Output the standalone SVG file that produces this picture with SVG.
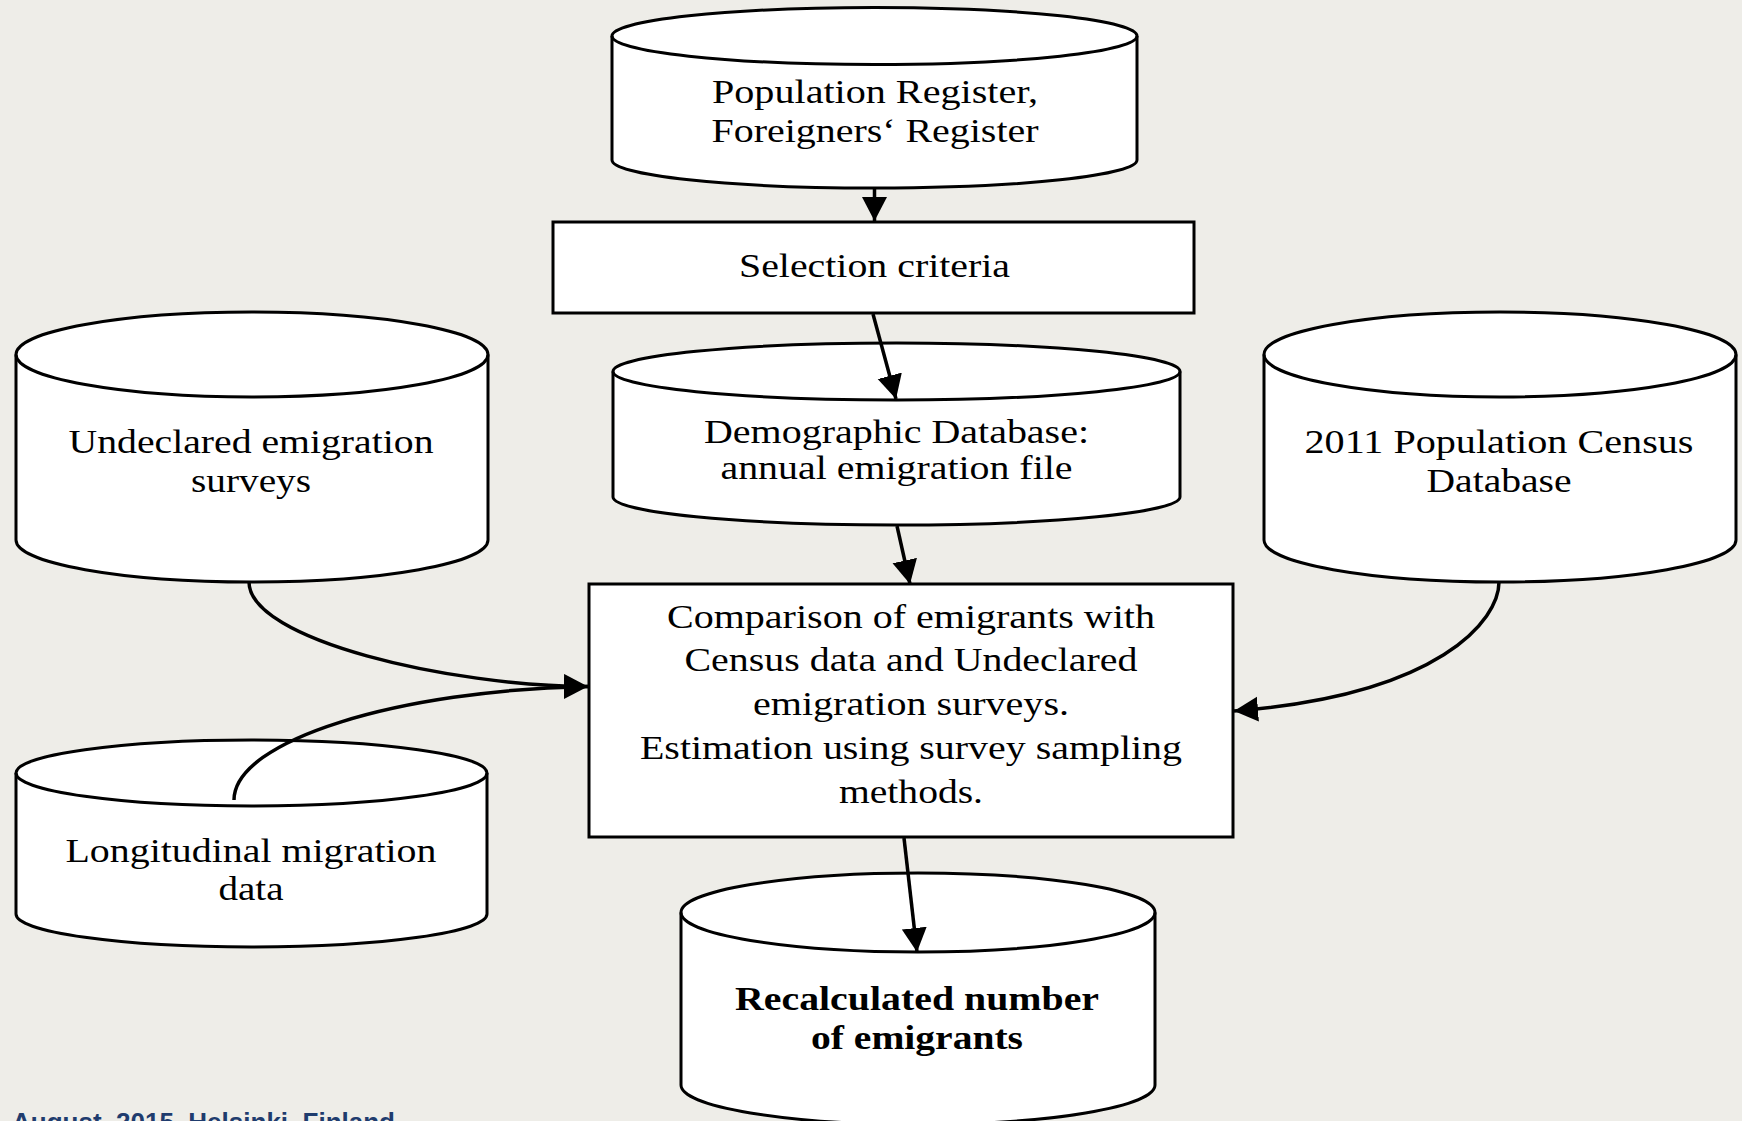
<svg xmlns="http://www.w3.org/2000/svg" width="1742" height="1121" viewBox="0 0 1742 1121">
<style>
.shape{fill:#ffffff;stroke:#000000;stroke-width:3}
.rim{fill:none;stroke:#000000;stroke-width:3}
.lbl{font-family:"Liberation Serif","Times New Roman",serif;font-size:33px;fill:#000000;text-anchor:middle}
.bold{font-weight:bold}
.conn{fill:none;stroke:#000000;stroke-width:3.5}
.foot{font-family:"Liberation Sans",Arial,sans-serif;font-weight:bold;font-size:26px;fill:#1f3c6e}
</style>
<defs>
<marker id="ah" markerUnits="userSpaceOnUse" markerWidth="26" markerHeight="26" refX="24" refY="12.5" orient="auto">
<path d="M0,0 L24,12.5 L0,25 Z" fill="#000000"/>
</marker>
</defs>
<rect x="0" y="0" width="1742" height="1121" fill="#eeede8"/>

<g id="population-register">
<path class="shape" d="M612,36 A262.5,28.5 0 0 1 1137,36 L1137,160 A262.5,28 0 0 1 612,160 Z"/>
<path class="rim" d="M612,36 A262.5,28.5 0 0 0 1137,36"/>
<text class="lbl" x="875" y="103" textLength="326" lengthAdjust="spacingAndGlyphs">Population Register,</text>
<text class="lbl" x="875" y="142" textLength="327" lengthAdjust="spacingAndGlyphs">Foreigners‘ Register</text>
</g>

<g id="selection-criteria">
<rect class="shape" x="553" y="222" width="641" height="91"/>
<text class="lbl" x="874.5" y="277" textLength="271" lengthAdjust="spacingAndGlyphs">Selection criteria</text>
</g>

<g id="demographic-database">
<path class="shape" d="M613,371.5 A283.5,28.5 0 0 1 1180,371.5 L1180,497 A283.5,28 0 0 1 613,497 Z"/>
<path class="rim" d="M613,371.5 A283.5,28.5 0 0 0 1180,371.5"/>
<text class="lbl" x="896.5" y="443" textLength="385" lengthAdjust="spacingAndGlyphs">Demographic Database:</text>
<text class="lbl" x="896.5" y="479" textLength="352" lengthAdjust="spacingAndGlyphs">annual emigration file</text>
</g>

<g id="undeclared-surveys">
<path class="shape" d="M16,354.5 A236,42.5 0 0 1 488,354.5 L488,540 A236,42 0 0 1 16,540 Z"/>
<path class="rim" d="M16,354.5 A236,42.5 0 0 0 488,354.5"/>
<text class="lbl" x="251" y="453" textLength="365" lengthAdjust="spacingAndGlyphs">Undeclared emigration</text>
<text class="lbl" x="251" y="492" textLength="120" lengthAdjust="spacingAndGlyphs">surveys</text>
</g>

<g id="census-database">
<path class="shape" d="M1264,354.5 A236,42.5 0 0 1 1736,354.5 L1736,540 A236,42 0 0 1 1264,540 Z"/>
<path class="rim" d="M1264,354.5 A236,42.5 0 0 0 1736,354.5"/>
<text class="lbl" x="1499" y="453" textLength="389" lengthAdjust="spacingAndGlyphs">2011 Population Census</text>
<text class="lbl" x="1499" y="492" textLength="145" lengthAdjust="spacingAndGlyphs">Database</text>
</g>

<g id="longitudinal-data">
<path class="shape" d="M16,773 A235.5,33 0 0 1 487,773 L487,914 A235.5,33 0 0 1 16,914 Z"/>
<path class="rim" d="M16,773 A235.5,33 0 0 0 487,773"/>
<text class="lbl" x="251" y="862" textLength="371" lengthAdjust="spacingAndGlyphs">Longitudinal migration</text>
<text class="lbl" x="251" y="900" textLength="65" lengthAdjust="spacingAndGlyphs">data</text>
</g>

<g id="comparison">
<rect class="shape" x="589" y="584" width="644" height="253"/>
<text class="lbl" x="911" y="628" textLength="488" lengthAdjust="spacingAndGlyphs">Comparison of emigrants with</text>
<text class="lbl" x="911" y="671" textLength="453" lengthAdjust="spacingAndGlyphs">Census data and Undeclared</text>
<text class="lbl" x="911" y="715" textLength="316" lengthAdjust="spacingAndGlyphs">emigration surveys.</text>
<text class="lbl" x="911" y="759" textLength="542" lengthAdjust="spacingAndGlyphs">Estimation using survey sampling</text>
<text class="lbl" x="911" y="803" textLength="144" lengthAdjust="spacingAndGlyphs">methods.</text>
</g>

<g id="recalculated">
<path class="shape" d="M681,912.5 A237,39.5 0 0 1 1155,912.5 L1155,1085 A237,39.5 0 0 1 681,1085 Z"/>
<path class="rim" d="M681,912.5 A237,39.5 0 0 0 1155,912.5"/>
<text class="lbl bold" x="917" y="1010" textLength="364" lengthAdjust="spacingAndGlyphs">Recalculated number</text>
<text class="lbl bold" x="917" y="1049" textLength="212" lengthAdjust="spacingAndGlyphs">of emigrants</text>
</g>

<g id="connectors">
<path class="conn" d="M874.5,189 L874.5,221" marker-end="url(#ah)"/>
<path class="conn" d="M873,314 L896,399" marker-end="url(#ah)"/>
<path class="conn" d="M897,526 L910,584" marker-end="url(#ah)"/>
<path class="conn" d="M904,838 L917,952" marker-end="url(#ah)"/>
<path class="conn" d="M249,582 C249,640 450,686 588,686.5" marker-end="url(#ah)"/>
<path class="conn" d="M234,800 C234,740 400,690 588,686.5"/>
<path class="conn" d="M1499,582 C1499,620 1440,695 1234,711" marker-end="url(#ah)"/>
</g>

<text class="foot" x="12" y="1131" textLength="383" lengthAdjust="spacingAndGlyphs">August, 2015, Helsinki, Finland</text>
</svg>
